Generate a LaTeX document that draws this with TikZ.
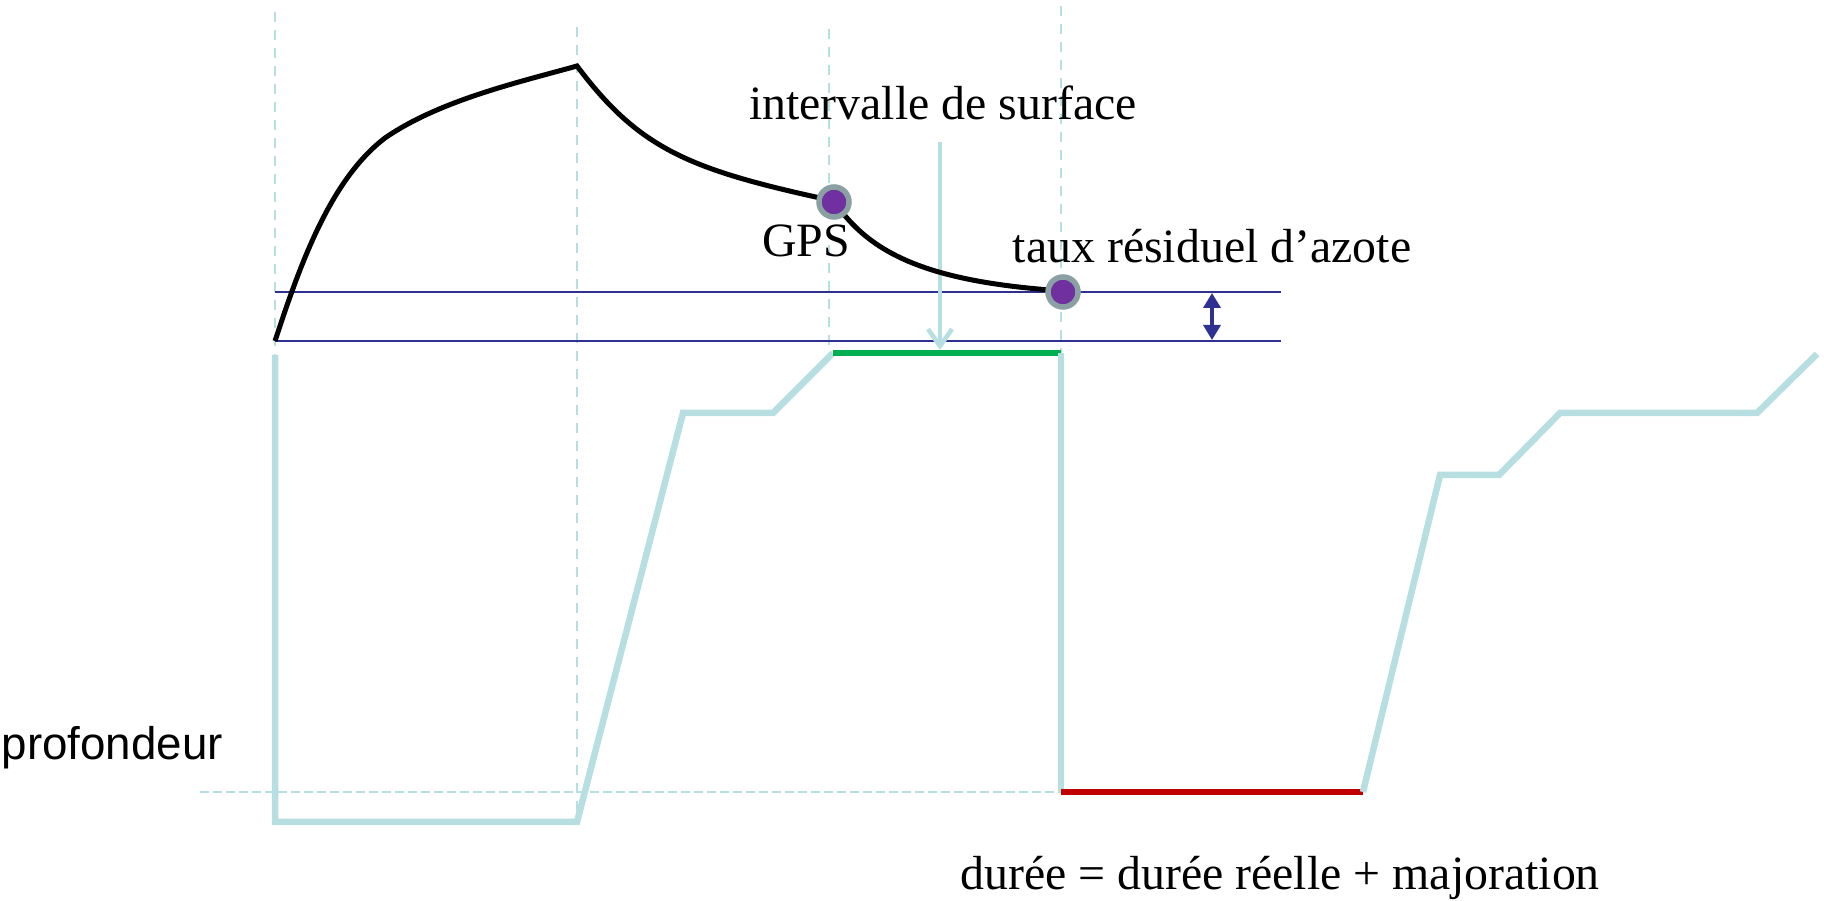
\documentclass[tikz,border=0pt]{standalone}
\usepackage{fontspec}
\setmainfont{Liberation Serif}
\setsansfont{Liberation Sans}
\usetikzlibrary{arrows.meta}
\definecolor{bleuclair}{RGB}{183,222,225}
\definecolor{bleufonce}{RGB}{46,49,146}
\definecolor{violet}{RGB}{112,48,160}
\definecolor{anneau}{RGB}{138,160,163}
\definecolor{vert}{RGB}{0,176,80}
\definecolor{rouge}{RGB}{192,0,0}

\begin{document}
\begin{tikzpicture}[x=0.01cm,y=-0.01cm,
  repere/.style={bleuclair,line width=0.025cm,dash pattern=on 0.1cm off 0.08cm},
  reperebas/.style={bleuclair,line width=0.025cm,dash pattern=on 0.09cm off 0.04cm},
  profil/.style={bleuclair,line width=0.065cm},
  palier/.style={line width=0.065cm},
  courbe/.style={black,line width=0.05cm},
  niveau/.style={bleufonce,line width=0.022cm},
  bille/.style={circle,draw=anneau,fill=violet,line width=0.055cm,minimum size=0.3cm,inner sep=0pt},
  texte/.style={font=\fontsize{13.6}{16}\selectfont,inner sep=0pt,anchor=base}]
\useasboundingbox (0,0) rectangle (1824,901);

\coordinate (depart) at (275,341);
\coordinate (sommet) at (577,66);
\coordinate (fond1) at (275,822);
\coordinate (fond2) at (577,822);
\coordinate (surf1) at (833,353);
\coordinate (surf2) at (1061,353);
\coordinate (fondB) at (1061,792);
\coordinate (remontee) at (1363,792);

\draw[repere] (275,12) -- (275,355);
\draw[repere] (577,27) -- (fond2);
\draw[repere] (829,29) -- (829,353);
\draw[repere] (1061,6) -- (surf2);
\draw[reperebas] (200,792) -- (fondB);

\draw[niveau] (depart |- 0,292) -- (1281,292);
\draw[niveau] (depart) -- (1281,341);
\draw[bleufonce,line width=0.035cm,{Triangle[length=1.5mm,width=1.7mm]}-{Triangle[length=1.5mm,width=1.7mm]}] (1212,293) -- (1212,340);

\draw[profil] (275,355) -- (fond1) -- (fond2) -- (683,413) -- (773,413) -- (surf1);
\draw[palier,vert] (surf1) -- (surf2);
\draw[profil] (surf2) -- (fondB);
\draw[palier,rouge] (fondB) -- (remontee);
\draw[profil] (remontee) -- (1440,475) -- (1499,475) -- (1560,413) -- (1757,413) -- (1817,354);

\node[texte] (isurf) at (943,120) {intervalle de surface};
\draw[bleuclair,line width=0.045cm,-{Straight Barb[length=1.7mm,width=2.4mm]}] (940,142) -- (940,350);

\draw[courbe] (depart) .. controls (300,265) and (330,180) .. (385,138)
  .. controls (440,100) and (520,82) .. (sommet)
  .. controls (640,150) and (690,170) .. (834,201)
  .. controls (870,255) and (930,282) .. (1063,291);
\node[bille] (gps) at (834,202) {};
\node[bille] (taux) at (1063,292) {};

\node[texte] (lgps) at (806,257) {GPS};
\node[texte] (ltaux) at (1212,263) {taux résiduel d’azote};
\node[texte,anchor=base west,font=\sffamily\fontsize{13}{16}\selectfont] (prof) at (1,760) {profondeur};
\node[texte] (duree) at (1280,890) {durée = durée réelle + majoration};
\end{tikzpicture}
\end{document}
